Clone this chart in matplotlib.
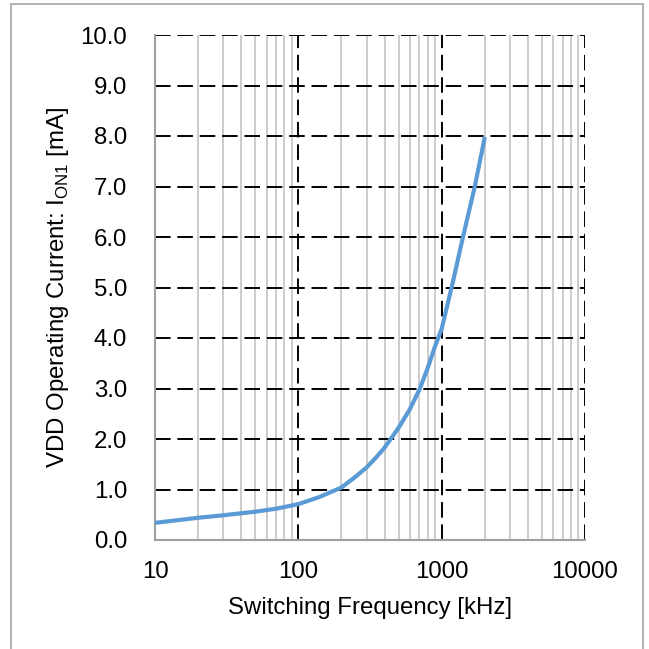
import matplotlib
matplotlib.use("Agg")
import matplotlib.pyplot as plt
from matplotlib.patches import Rectangle
from matplotlib.ticker import FixedLocator, FixedFormatter, LogLocator, NullFormatter

freq_khz = [10, 20, 30, 40, 50, 70, 100, 140, 200, 250, 300, 350, 400, 500, 600,
            700, 800, 900, 1000, 1200, 1400, 1700, 2000]
current_ma = [0.34, 0.44, 0.49, 0.53, 0.56, 0.62, 0.71, 0.85, 1.04, 1.25, 1.44, 1.64,
              1.83, 2.22, 2.59, 2.98, 3.41, 3.84, 4.18, 5.12, 5.97, 6.99, 7.98]

x_ticks = [10, 100, 1000, 10000]
x_tick_labels = ["10", "100", "1000", "10000"]
y_ticks = [0, 1, 2, 3, 4, 5, 6, 7, 8, 9, 10]

plt.rcParams['font.family'] = ['Liberation Sans', 'DejaVu Sans']
plt.rcParams['font.size'] = 17.3

fig = plt.figure(figsize=(6.49, 6.49), dpi=100)
ax = fig.add_axes([155 / 649, 109 / 649, 430 / 649, 505 / 649])

ax.plot(freq_khz, current_ma, color='#5B9BD5', lw=3.0, solid_capstyle='butt',
        solid_joinstyle='round', zorder=3)

ax.set_xscale('log')
ax.set_xlim(10, 10000)
ax.set_ylim(0, 10)

ax.xaxis.set_major_locator(FixedLocator(x_ticks))
ax.xaxis.set_major_formatter(FixedFormatter(x_tick_labels))
ax.xaxis.set_minor_locator(LogLocator(base=10, subs=range(2, 10)))
ax.xaxis.set_minor_formatter(NullFormatter())
ax.set_yticks(y_ticks)
ax.set_yticklabels(["%.1f" % v for v in y_ticks])

ax.tick_params(axis='both', which='both', length=0)
ax.tick_params(axis='y', pad=20)
ax.tick_params(axis='x', pad=15)

ax.set_axisbelow(True)
ax.grid(which='minor', axis='x', color='#c4c4c4', lw=1.2, ls='-')
ax.grid(which='major', axis='both', color='black', lw=1.4, ls=(0, (8, 3.5)))

for side in ['top', 'right']:
    ax.spines[side].set_visible(False)
for side in ['left', 'bottom']:
    ax.spines[side].set_color('#a0a0a0')
    ax.spines[side].set_linewidth(1.5)
    ax.spines[side].set_zorder(2.6)

ax.set_xlabel('Switching Frequency [kHz]', labelpad=10)
ax.set_ylabel(r'VDD Operating Current: I$_{\mathregular{ON1}}$ [mA]', labelpad=7)

# light frame around the whole chart
fig.patches.append(Rectangle((11 / 649, -0.01), 632 / 649, 1.01 - 4 / 649,
                             transform=fig.transFigure, fill=False,
                             edgecolor='#a6a6a6', lw=1.2))

fig.savefig('out.png', dpi=100)
